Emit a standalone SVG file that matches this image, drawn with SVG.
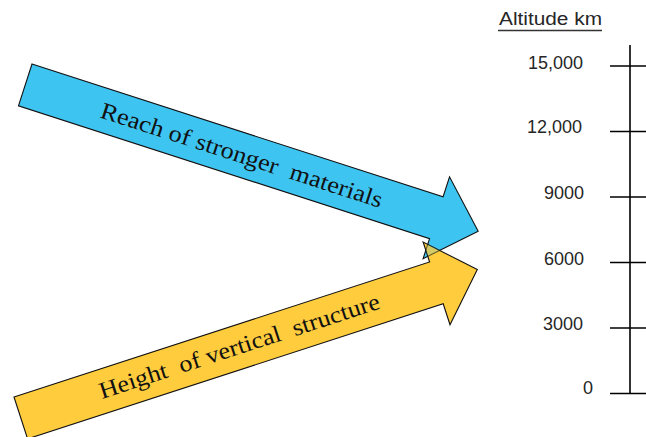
<svg xmlns="http://www.w3.org/2000/svg" width="646" height="437" viewBox="0 0 646 437">
<style>
.arrow{stroke:#111;stroke-width:1.1;stroke-linejoin:miter}
.lbl{font-family:"Times New Roman","Liberation Serif",serif;font-size:23.5px;fill:#111;white-space:pre}
.num{font-family:"Liberation Sans",Arial,sans-serif;font-size:18px;fill:#262626;text-anchor:end}
.axis{stroke:#000;stroke-width:1.6;fill:none}
</style>
<defs>
<polygon id="blue-shape" points="0,0 432,0 432,-21 476,22 432,65 432,44 0,44"/>
<polygon id="yellow-shape" points="0,0 437,0 437,-21 480,22 437,66 437,44 0,44"/>
<clipPath id="yclip"><use href="#yellow-shape" transform="translate(14,397) rotate(-18)"/></clipPath>
</defs>
<rect width="646" height="437" fill="#fff"/>
<g id="blue-arrow" transform="translate(32,64) rotate(17.9)">
<use href="#blue-shape" class="arrow" fill="#3EC4F1"/>
<text class="lbl" x="80" y="30" textLength="295" lengthAdjust="spacingAndGlyphs" xml:space="preserve">Reach of stronger  materials</text>
</g>
<g id="yellow-arrow">
<use href="#yellow-shape" class="arrow" fill="#FECC3D" transform="translate(14,397) rotate(-18)"/>
<g clip-path="url(#yclip)">
<use href="#blue-shape" transform="translate(32,64) rotate(17.9)" fill="#3EC4F1" fill-opacity="0.22" stroke="#111" stroke-opacity="0.6" stroke-width="1.1"/>
</g>
<text class="lbl" transform="translate(14,397) rotate(-18)" x="83" y="29" textLength="294" lengthAdjust="spacingAndGlyphs" xml:space="preserve">Height  of vertical  structure</text>
</g>
<g id="axis">
<text class="num" x="602" y="25" textLength="103" lengthAdjust="spacingAndGlyphs">Altitude km</text>
<line x1="498" y1="30.5" x2="602" y2="30.5" stroke="#333" stroke-width="1.3"/>
<line class="axis" x1="630" y1="45" x2="630" y2="394"/>
<line class="axis" x1="610" y1="66" x2="646" y2="66"/>
<line class="axis" x1="610" y1="131.5" x2="646" y2="131.5"/>
<line class="axis" x1="610" y1="197" x2="646" y2="197"/>
<line class="axis" x1="610" y1="262.5" x2="646" y2="262.5"/>
<line class="axis" x1="610" y1="328" x2="646" y2="328"/>
<line class="axis" x1="610" y1="393.5" x2="646" y2="393.5"/>
<text class="num" x="583" y="68.5">15,000</text>
<text class="num" x="582" y="133">12,000</text>
<text class="num" x="584" y="198.5">9000</text>
<text class="num" x="584" y="264.5">6000</text>
<text class="num" x="583" y="330">3000</text>
<text class="num" x="593" y="394">0</text>
</g>
</svg>
